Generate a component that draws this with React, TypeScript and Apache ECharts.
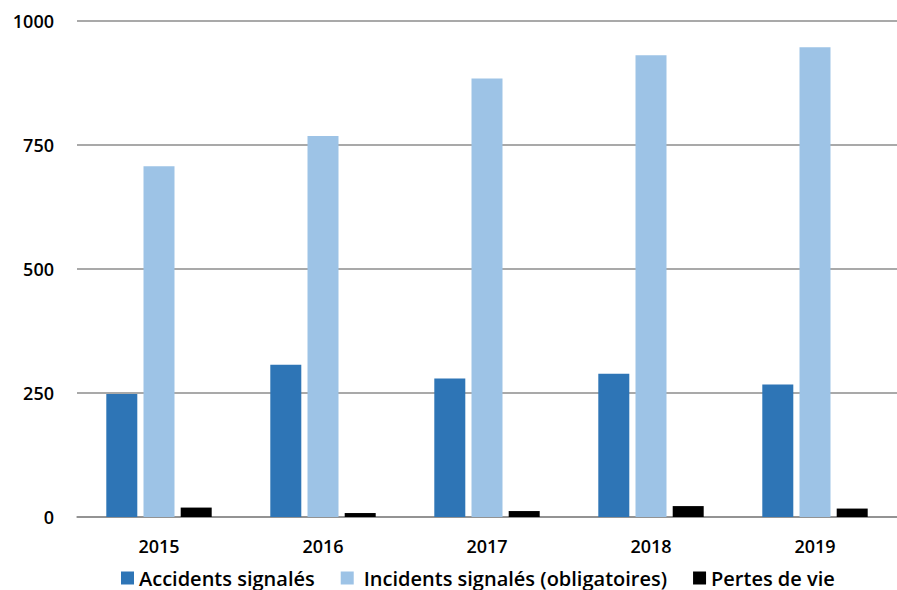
import React, { useEffect, useRef } from "react";
import * as echarts from "echarts";

const years = ["2015", "2016", "2017", "2018", "2019"];
const accidents = [248, 307, 279, 289, 267];
const incidents = [707, 768, 884, 931, 947];
const pertesDeVie = [19, 8, 12, 22, 17];

const FONT = "'Open Sans', 'Noto Sans', sans-serif";

export default function App() {
  const ref = useRef<HTMLDivElement>(null);

  useEffect(() => {
    if (!ref.current) return;
    const chart = echarts.init(ref.current, undefined, { renderer: "svg" });
    chart.setOption({
      animation: false,
      backgroundColor: "#ffffff",
      textStyle: { fontFamily: FONT },
      grid: { left: 77, right: 0, top: 21, bottom: 73 },
      legend: {
        left: 121,
        top: 568,
        padding: 0,
        itemWidth: 13,
        itemHeight: 13,
        itemGap: 26,
        icon: "rect",
        textStyle: { fontFamily: FONT, fontSize: 20, fontWeight: 600, color: "#000", lineHeight: 20 },
        data: [
          { name: "Accidents signalés" },
          { name: "Incidents signalés (obligatoires)", textStyle: { padding: [0, 0, 0, 5] } },
          { name: "Pertes de vie" },
        ],
      },
      xAxis: {
        type: "category",
        data: years,
        axisTick: { show: false },
        axisLine: { lineStyle: { color: "#8c8c8c", width: 1.5 } },
        axisLabel: { fontFamily: FONT, fontSize: 18, fontWeight: 600, color: "#000", margin: 20 },
      },
      yAxis: {
        type: "value",
        min: 0,
        max: 1000,
        interval: 250,
        axisLine: { show: false },
        axisTick: { show: false },
        splitLine: { lineStyle: { color: "#8c8c8c", width: 1.5 } },
        axisLabel: {
          fontFamily: FONT,
          fontSize: 18,
          fontWeight: 600,
          color: "#000",
          margin: 23,
          formatter: (v: number) => String(v),
        },
      },
      series: [
        {
          name: "Accidents signalés",
          type: "bar",
          data: accidents,
          barWidth: 31,
          barGap: "20%",
          itemStyle: { color: "#2E75B6" },
        },
        {
          name: "Incidents signalés (obligatoires)",
          type: "bar",
          data: incidents,
          barWidth: 31,
          barGap: "20%",
          itemStyle: { color: "#9DC3E6" },
        },
        {
          name: "Pertes de vie",
          type: "bar",
          data: pertesDeVie,
          barWidth: 31,
          barGap: "20%",
          itemStyle: { color: "#000000" },
        },
      ],
    });
    return () => chart.dispose();
  }, []);

  return <div ref={ref} style={{ width: 897, height: 590, position: "absolute", left: 0, top: 0 }} />;
}
